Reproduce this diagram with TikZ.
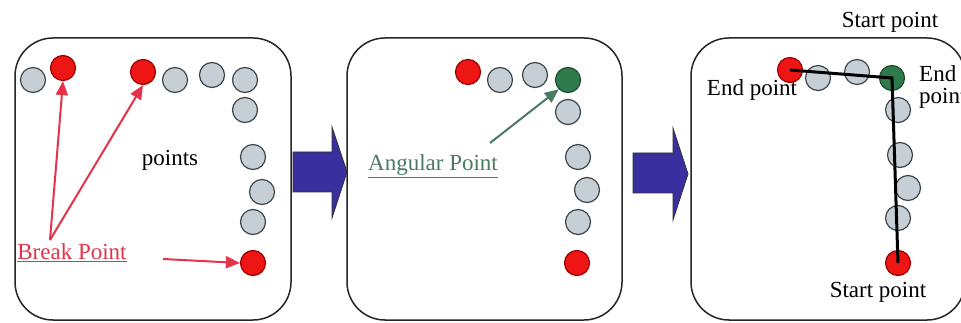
\documentclass[tikz,border=0pt]{standalone}
\usepackage{fontspec}
\setmainfont{Liberation Serif}
\usetikzlibrary{arrows.meta}
\definecolor{dotgrey}{HTML}{C6CED6}
\definecolor{dotedge}{HTML}{3E4648}
\definecolor{dotred}{HTML}{EE1515}
\definecolor{dotgreen}{HTML}{2F7A4A}
\definecolor{arrred}{HTML}{E3344A}
\definecolor{angcol}{HTML}{4A7A62}
\definecolor{bigblue}{HTML}{3A2F9E}
\begin{document}
\begin{tikzpicture}[x=1pt,y=-1pt,
  panel/.style={draw=black!85,line width=1.5pt,rounded corners=38pt},
  dot/.style={circle,minimum size=25pt,inner sep=0pt,draw=dotedge,line width=1.2pt,fill=dotgrey},
  rdot/.style={dot,fill=dotred,draw=red!60!black},
  gdot/.style={dot,fill=dotgreen,draw=dotgreen!60!black},
  lbl/.style={font=\fontsize{23}{22}\selectfont,inner sep=1pt},
  redarr/.style={draw=arrred,line width=2pt,-{Triangle[length=14pt,width=12pt]}},
  grnarr/.style={draw=angcol,line width=2pt,-{Triangle[length=14pt,width=12pt]}},
  bigarrow/.style={fill=bigblue,draw=black!80,line width=0.8pt},
  path/.style={draw=black,line width=3pt}
]
\useasboundingbox (0,0) rectangle (961,323);
\fill[white] (0,0) rectangle (961,323);

% panels
\draw[panel] (15,38) rectangle (291,320);
\draw[panel] (347,38) rectangle (622,320);
\draw[panel] (691,38) rectangle (965,320);

% big arrows
\path[bigarrow] (293,152) -- (332,152) -- (332,127) -- (347,172) -- (332,218) -- (332,192) -- (293,192) -- cycle;
\path[bigarrow] (633,153) -- (673,153) -- (673,128) -- (688,174) -- (673,220) -- (673,193) -- (633,193) -- cycle;

% panel 1
\node[dot]  (a1) at (33,80) {};
\node[rdot] (a2) at (63,68) {};
\node[rdot] (a3) at (143,72) {};
\node[dot]  (a4) at (175,80) {};
\node[dot]  (a5) at (212,75) {};
\node[dot]  (a6) at (245,80) {};
\node[dot]  (a7) at (245,110) {};
\node[dot]  (a8) at (253,157) {};
\node[dot]  (a9) at (262,192) {};
\node[dot]  (a10) at (253,222) {};
\node[rdot] (a11) at (253,263) {};
\node[lbl] (pts) at (170,160) {points};
\node[lbl,text=arrred] (bp) at (72,253) {\underline{Break Point}};
\coordinate (bpa) at (50,240);
\coordinate (bpb) at (163,259);
\draw[redarr] (bpa) -- (a2.south);
\draw[redarr] (bpa) -- (a3.south);
\draw[redarr] (bpb) -- (a11.west);

% panel 2
\node[rdot] (b1) at (468,72) {};
\node[dot]  (b2) at (500,80) {};
\node[dot]  (b3) at (535,75) {};
\node[gdot] (b4) at (568,80) {};
\node[dot]  (b5) at (568,112) {};
\node[dot]  (b6) at (578,157) {};
\node[dot]  (b7) at (587,190) {};
\node[dot]  (b8) at (578,222) {};
\node[rdot] (b9) at (577,263) {};
\node[lbl,text=angcol] (ap) at (433,166) {\underline{Angular Point}};
\coordinate (apa) at (490,143);
\draw[grnarr] (apa) -- (b4.south west);

% panel 3
\node[rdot] (c1) at (790,70) {};
\node[dot]  (c2) at (818,78) {};
\node[dot]  (c3) at (857,72) {};
\node[gdot] (c4) at (892,78) {};
\node[dot]  (c5) at (898,110) {};
\node[dot]  (c6) at (900,155) {};
\node[dot]  (c7) at (908,188) {};
\node[dot]  (c8) at (898,218) {};
\node[rdot] (c9) at (898,263) {};
\draw[path] (c1.center) -- (c4.center) -- (c9.center);
\node[lbl] (sp1) at (890,22) {Start point};
\node[lbl] (ep1) at (752,90) {End point};
\node[lbl,anchor=north west,align=left] (ep2) at (918,64) {End\\point};
\node[lbl] (sp2) at (878,292) {Start point};
\end{tikzpicture}
\end{document}
